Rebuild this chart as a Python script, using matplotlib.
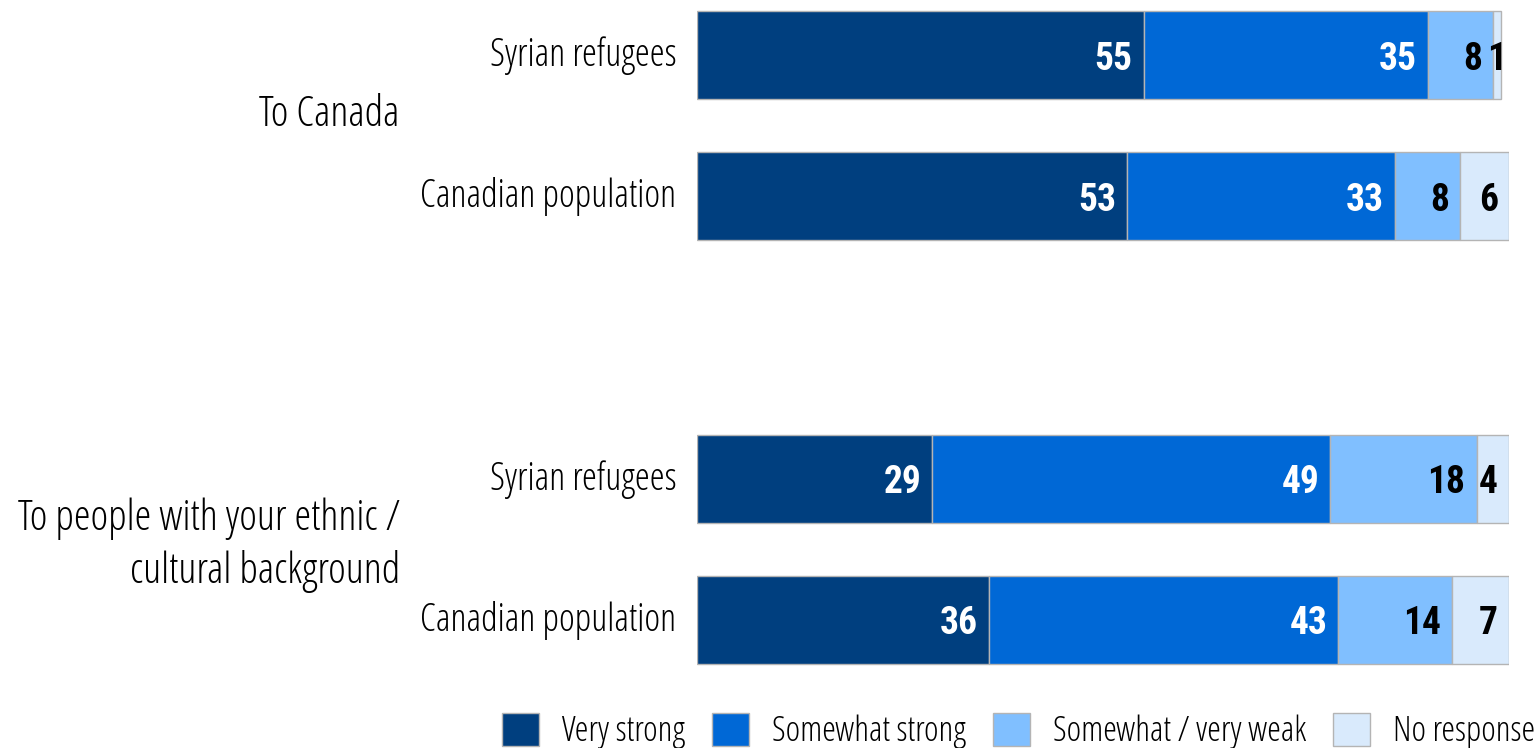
import matplotlib
matplotlib.use("Agg")
import matplotlib.pyplot as plt
from matplotlib import font_manager
from matplotlib.font_manager import FontProperties
from matplotlib.transforms import ScaledTranslation
import os
import numpy as np

# ---- data ----
groups = ["To Canada", "To people with your ethnic /\ncultural background"]
rows = ["Syrian refugees", "Canadian population", "Syrian refugees", "Canadian population"]
series_names = ["Very strong", "Somewhat strong", "Somewhat / very weak", "No response"]
very_strong = [55, 53, 29, 36]
somewhat_strong = [35, 33, 49, 43]
weak = [8, 8, 18, 14]
no_response = [1, 6, 4, 7]

colors = ["#003f7f", "#0068d6", "#80bfff", "#d9eafc"]
label_colors = ["white", "white", "black", "black"]


def pick(files, family, weight="normal", stretch="condensed", size=12):
    by_name = {os.path.basename(f.fname): f.fname for f in font_manager.fontManager.ttflist}
    for fn in files:
        if fn in by_name:
            return FontProperties(fname=by_name[fn], size=size)
    return FontProperties(family=family, weight=weight, stretch=stretch, size=size)


light_files = ["OpenSans-CondLight.ttf", "FiraSansExtraCondensed-Light.ttf",
               "DejaVuSansCondensed.ttf"]
row_font = pick(light_files, "DejaVu Sans", size=27.3)
grp_font = pick(light_files, "DejaVu Sans", size=30.5)
leg_font = pick(light_files, "DejaVu Sans", size=25)
num_font = pick(["RobotoCondensed-Bold.ttf", "DejaVuSansCondensed-Bold.ttf"],
                "DejaVu Sans", weight="bold", size=27)

W, H = 1537, 748
fig = plt.figure(figsize=(W / 100, H / 100), dpi=100)
ax = fig.add_axes([697 / W, 1 - 706 / H, (1509 - 697) / W, 706 / H])

ypos = [0, 1, 3, 4]
data = [very_strong, somewhat_strong, weak, no_response]
left = np.zeros(len(rows))
for name, vals, col, lc in zip(series_names, data, colors, label_colors):
    vals = np.array(vals, dtype=float)
    ax.barh(ypos, vals, left=left, height=0.624, color=col, edgecolor="#b4b4b4",
            linewidth=1.0, label=name)
    for y, l, v in zip(ypos, left, vals):
        if v < 3:
            ax.annotate(f"{int(v)}", (l + v / 2, y), ha="center", va="center_baseline",
                        color=lc, fontproperties=num_font)
        else:
            ax.annotate(f"{int(v)}", (l + v, y), xytext=(-8, 0), textcoords="offset points",
                        ha="right", va="center_baseline", color=lc, fontproperties=num_font)
    left += vals

ax.set_xlim(0, 100)
ax.set_ylim(4.61, -0.39)
ax.set_yticks(ypos)
ax.set_yticklabels(rows, fontproperties=row_font)
ax.tick_params(axis="y", length=0, pad=15)
up = ScaledTranslation(0, 4 / 100, fig.dpi_scale_trans)
for t in ax.get_yticklabels():
    t.set_transform(t.get_transform() + up)
ax.set_xticks([])
for s in ax.spines.values():
    s.set_visible(False)

# group labels
trans = ax.get_yaxis_transform()
ax.text(-0.366, 0.42, groups[0], transform=trans, ha="right", va="center",
        fontproperties=grp_font)
ax.text(-0.366, 3.47, groups[1], transform=trans, ha="right", va="center",
        fontproperties=grp_font, linespacing=1.3)

handles, labels = ax.get_legend_handles_labels()
fs = leg_font.get_size_in_points() * 100 / 72.0  # font size in px
fig.legend(handles, labels, loc="upper left", bbox_to_anchor=(502 / W, 1 - 713 / H), ncol=4,
           frameon=False, prop=leg_font,
           handlelength=37 / fs, handleheight=38 / fs, handletextpad=23 / fs,
           columnspacing=27 / fs, borderaxespad=0, borderpad=0)

fig.savefig("out.png", dpi=100)
